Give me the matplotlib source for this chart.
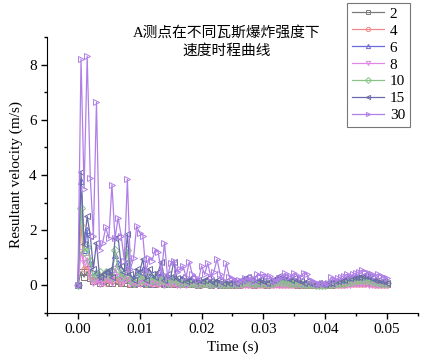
import numpy as np
import matplotlib
matplotlib.use("Agg")
import matplotlib.pyplot as plt
from matplotlib.ticker import MultipleLocator

plt.rcParams['font.family'] = ['Liberation Serif', 'Noto Sans CJK SC']

# time axis, 0.0005 s step
time = np.round(np.arange(0, 101) * 0.0005, 4)

v2 = [0, 0.5, 0.3, 0.5, 0.25, 0.15, 0.3, 0.1, 0.15, 0.2,
      0.1, 0.1, 0.2, 0.15, 0.1, 0.1, 0.2, 0.05, 0.05, 0.1,
      0.08, 0.1, 0.05, 0.08, 0.05, 0.06, 0.08, 0.1, 0.05, 0.06,
      0.05, 0.08, 0.05, 0.04, 0.05, 0.04, 0.05, 0.06, 0.04, 0.03,
      0.04, 0.05, 0.04, 0.03, 0.04, 0.05, 0.03, 0.04, 0.03, 0.03,
      0.03, 0.04, 0.03, 0.04, 0.05, 0.05, 0.04, 0.03, 0.04, 0.05,
      0.04, 0.03, 0.04, 0.05, 0.06, 0.06, 0.05, 0.05, 0.04, 0.04,
      0.04, 0.03, 0.03, 0.03, 0.02, 0.02, 0.02, 0.02, 0.02, 0.02,
      0.02, 0.03, 0.03, 0.04, 0.05, 0.05, 0.06, 0.07, 0.08, 0.08,
      0.09, 0.1, 0.1, 0.1, 0.09, 0.08, 0.07, 0.06, 0.05, 0.05,
      0.04]
v4 = [0, 2.2, 0.6, 0.7, 0.3, 0.2, 0.15, 0.3, 0.2, 0.1,
      0.2, 0.15, 0.3, 0.2, 0.1, 0.2, 0.3, 0.05, 0.05, 0.1,
      0.1, 0.25, 0.05, 0.1, 0.08, 0.1, 0.05, 0.1, 0.05, 0.08,
      0.05, 0.1, 0.05, 0.04, 0.06, 0.04, 0.05, 0.08, 0.04, 0.03,
      0.04, 0.05, 0.04, 0.03, 0.05, 0.04, 0.03, 0.04, 0.03, 0.03,
      0.02, 0.03, 0.02, 0.03, 0.04, 0.03, 0.02, 0.03, 0.02, 0.03,
      0.02, 0.02, 0.03, 0.03, 0.04, 0.03, 0.03, 0.02, 0.02, 0.02,
      0.02, 0.02, 0.01, 0.01, 0.01, 0.01, 0.01, 0.01, 0.01, 0.01,
      0.01, 0.01, 0.02, 0.02, 0.02, 0.03, 0.03, 0.04, 0.04, 0.05,
      0.05, 0.05, 0.05, 0.05, 0.04, 0.04, 0.03, 0.03, 0.02, 0.02,
      0.02]
v6 = [0, 3.8, 1.3, 2.0, 0.8, 0.3, 0.5, 0.2, 0.3, 0.5,
      0.4, 0.6, 1.1, 0.8, 0.4, 0.3, 0.8, 0.2, 0.1, 0.4,
      0.3, 0.6, 0.1, 0.3, 0.2, 0.15, 0.3, 0.4, 0.1, 0.2,
      0.2, 0.3, 0.15, 0.1, 0.15, 0.1, 0.1, 0.15, 0.1, 0.1,
      0.1, 0.15, 0.1, 0.05, 0.1, 0.1, 0.05, 0.1, 0.05, 0.05,
      0.1, 0.05, 0.1, 0.15, 0.2, 0.2, 0.15, 0.1, 0.1, 0.15,
      0.1, 0.1, 0.1, 0.15, 0.2, 0.25, 0.2, 0.2, 0.15, 0.15,
      0.15, 0.1, 0.1, 0.05, 0.05, 0.05, 0.05, 0.05, 0.05, 0.05,
      0.05, 0.05, 0.1, 0.1, 0.1, 0.15, 0.15, 0.2, 0.2, 0.25,
      0.25, 0.25, 0.3, 0.25, 0.25, 0.2, 0.15, 0.15, 0.1, 0.1,
      0.1]
v8 = [0, 1.2, 0.8, 1.0, 0.3, 0.1, 0.2, 0.05, 0.1, 0.3,
      0.2, 0.1, 0.6, 0.3, 0.1, 0.2, 0.6, 0.1, 0.05, 0.1,
      0.05, 0.2, 0.05, 0.1, 0.05, 0.1, 0.05, 0.2, 0.03, 0.05,
      0.05, 0.1, 0.03, 0.02, 0.05, 0.03, 0.05, 0.08, 0.02, 0.02,
      0.03, 0.05, 0.02, 0.02, 0.03, 0.02, 0.02, 0.03, 0.02, 0.02,
      0.02, 0.02, 0.02, 0.03, 0.03, 0.02, 0.02, 0.02, 0.02, 0.03,
      0.02, 0.02, 0.02, 0.03, 0.03, 0.03, 0.02, 0.02, 0.02, 0.02,
      0.02, 0.01, 0.01, 0.01, 0.01, 0.01, 0.01, 0.01, 0.01, 0.01,
      0.01, 0.01, 0.01, 0.02, 0.02, 0.02, 0.03, 0.03, 0.03, 0.04,
      0.04, 0.04, 0.04, 0.04, 0.03, 0.03, 0.03, 0.02, 0.02, 0.02,
      0.02]
v10 = [0, 2.8, 1.2, 1.4, 0.9, 0.3, 0.4, 0.5, 0.3, 0.5,
       0.5, 0.3, 1.3, 0.6, 0.3, 0.4, 1.3, 0.2, 0.1, 0.3,
       0.2, 0.4, 0.1, 0.3, 0.2, 0.3, 0.15, 0.2, 0.3, 0.1,
       0.2, 0.25, 0.15, 0.1, 0.1, 0.15, 0.1, 0.1, 0.1, 0.05,
       0.08, 0.1, 0.06, 0.05, 0.08, 0.1, 0.06, 0.05, 0.06, 0.05,
       0.06, 0.05, 0.08, 0.1, 0.12, 0.12, 0.1, 0.08, 0.08, 0.1,
       0.08, 0.06, 0.08, 0.1, 0.12, 0.15, 0.12, 0.12, 0.1, 0.1,
       0.1, 0.08, 0.06, 0.05, 0.04, 0.04, 0.04, 0.03, 0.03, 0.03,
       0.03, 0.04, 0.05, 0.06, 0.08, 0.1, 0.1, 0.12, 0.14, 0.16,
       0.18, 0.2, 0.2, 0.2, 0.18, 0.16, 0.14, 0.12, 0.1, 0.08,
       0.07]
v15 = [0, 4.1, 1.5, 2.5, 1.8, 0.6, 1.55, 0.3, 0.4, 0.5,
       0.55, 0.3, 1.7, 1.75, 0.7, 0.5, 1.85, 0.4, 0.2, 0.6,
       0.5, 0.95, 0.2, 0.6, 0.4, 0.3, 0.5, 0.85, 0.2, 0.4,
       0.3, 0.85, 0.25, 0.2, 0.3, 0.15, 0.2, 0.25, 0.15, 0.2,
       0.15, 0.2, 0.25, 0.15, 0.1, 0.2, 0.15, 0.1, 0.15, 0.1,
       0.15, 0.1, 0.15, 0.2, 0.25, 0.3, 0.2, 0.25, 0.15, 0.2,
       0.15, 0.1, 0.15, 0.2, 0.25, 0.35, 0.3, 0.3, 0.25, 0.2,
       0.25, 0.2, 0.15, 0.1, 0.15, 0.1, 0.05, 0.05, 0.1, 0.05,
       0.05, 0.1, 0.1, 0.15, 0.15, 0.2, 0.2, 0.25, 0.25, 0.3,
       0.3, 0.3, 0.35, 0.35, 0.3, 0.25, 0.2, 0.2, 0.15, 0.15,
       0.1]
v30 = [0, 8.2, 3.5, 8.3, 3.9, 1.8, 6.65, 1.3, 1.55, 2.1,
       1.7, 3.65, 1.7, 2.45, 1.8, 0.9, 3.85, 0.6, 1.0, 2.15,
       1.9, 1.8, 0.5, 1.0, 0.9, 1.3, 1.2, 0.4, 1.55, 0.3,
       0.8, 0.9, 0.5, 0.6, 0.7, 0.3, 0.85, 0.4, 0.3, 0.2,
       0.7, 0.4, 0.8, 0.3, 0.5, 0.95, 0.4, 0.2, 0.8, 0.3,
       0.25, 0.15, 0.2, 0.15, 0.25, 0.2, 0.3, 0.15, 0.4, 0.35,
       0.4, 0.3, 0.35, 0.2, 0.15, 0.25, 0.3, 0.45, 0.3, 0.35,
       0.45, 0.35, 0.3, 0.45, 0.4, 0.2, 0.15, 0.1, 0.05, 0.1,
       0.05, 0.1, 0.3, 0.2, 0.25, 0.3, 0.35, 0.4, 0.35, 0.4,
       0.45, 0.5, 0.55, 0.5, 0.45, 0.4, 0.35, 0.4, 0.35, 0.3,
       0.25]

labels = ["2", "4", "6", "8", "10", "15", "30"]
series = [v2, v4, v6, v8, v10, v15, v30]
colors = ["#7c7c7c", "#f08888", "#6a6ad8", "#e088e8", "#88c488", "#6a6aa8", "#b080e8"]
markers = ["s", "o", "^", "v", "D", "<", ">"]

fig = plt.figure(figsize=(4.25, 3.61), dpi=100)
ax = fig.add_axes([0.1106, 0.133, 0.8729, 0.7645])

for vals, lab, c, m in zip(series, labels, colors, markers):
    ax.plot(time, vals, color=c, lw=0.9, marker=m, ms=3.8, mfc="none",
            mec=c, mew=0.7, label=lab)

ax.set_xlim(-0.005, 0.055)
ax.set_ylim(-1, 9)
ax.set_xticks([0, 0.01, 0.02, 0.03, 0.04, 0.05])
ax.set_xticklabels(["0.00", "0.01", "0.02", "0.03", "0.04", "0.05"])
ax.set_yticks([0, 2, 4, 6, 8])
ax.xaxis.set_minor_locator(MultipleLocator(0.005))
ax.yaxis.set_minor_locator(MultipleLocator(1))
ax.tick_params(which="major", direction="out", length=4, width=1, labelsize=11)
ax.tick_params(which="minor", direction="out", length=2.5, width=1)
ax.spines["top"].set_visible(False)
ax.spines["right"].set_visible(False)
ax.set_xlabel("Time (s)", fontsize=11, labelpad=3)
ax.set_ylabel("Resultant velocity (m/s)", fontsize=11, labelpad=4)

fig.text(0.534, 0.884, "A测点在不同瓦斯爆炸强度下\n速度时程曲线", ha="center", va="center",
         fontsize=10.6, linespacing=1.35)

leg = fig.legend(loc="upper right", bbox_to_anchor=(0.964, 0.993), fontsize=11,
                 handlelength=2.1, labelspacing=0.21, borderpad=0.3,
                 handletextpad=0.4, borderaxespad=0, fancybox=False,
                 edgecolor="#555555", markerscale=0.8)
leg.get_frame().set_linewidth(0.8)

fig.savefig("out.png", dpi=100)
